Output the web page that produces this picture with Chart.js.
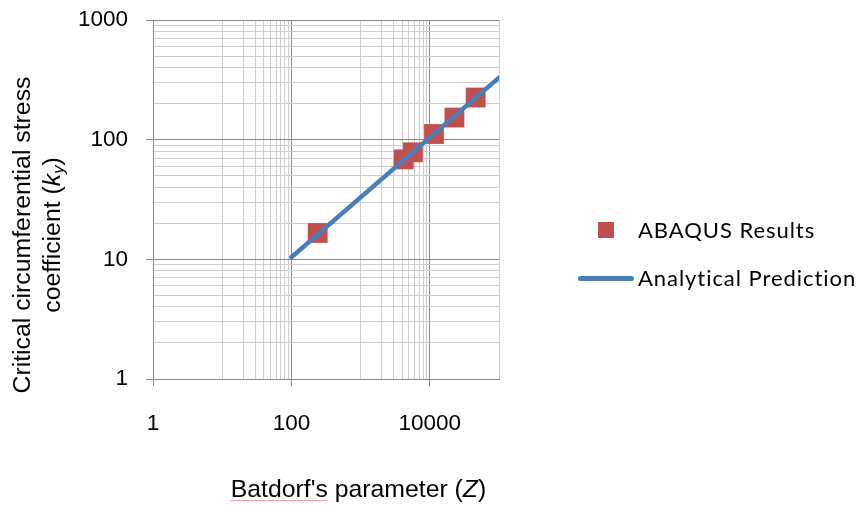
<!DOCTYPE html>
<html>
<head>
<meta charset="utf-8">
<script src="https://cdn.jsdelivr.net/npm/chart.js@4/dist/chart.umd.min.js"></script>
<style>
  html, body { margin: 0; padding: 0; background: #fff; }
  #wrap { position: relative; width: 865px; height: 506px; overflow: hidden; }
  #chart { position: absolute; left: 0; top: 0; }
  .axis-title { position: absolute; font-family: "Liberation Sans", Arial, sans-serif; font-size: 24.8px; color: #000; white-space: nowrap; }
  #xTitle { left: 0; width: 717px; top: 475px; text-align: center; line-height: 28px; }
  #xTitle .sp { text-decoration: underline; text-decoration-color: #f3a3a3; text-decoration-thickness: 1px; text-underline-offset: 3px; }
  #yTitle { left: 37px; top: 235px; width: 420px; line-height: 30px; text-align: center; transform: translate(-50%, -50%) rotate(-90deg); }
  #yTitle sub { font-size: 16.5px; vertical-align: -4px; line-height: 0; }
  #legend { position: absolute; left: 0; top: 0; font-family: Lato, "Open Sans", sans-serif; font-size: 22px; letter-spacing: 0.95px; color: #000; }
  .lg-item { position: absolute; white-space: nowrap; line-height: 26px; }
  .lg-swatch { position: absolute; }
</style>
</head>
<body>
<div id="wrap">
  <canvas id="chart" width="865" height="506"></canvas>
  <div class="axis-title" id="xTitle"><span class="sp">Batdorf's</span> parameter (<i>Z</i>)</div>
  <div class="axis-title" id="yTitle">Critical circumferential stress<br>coefficient (<i>k</i><sub><i>y</i></sub>)</div>
  <div id="legend"></div>
</div>
<script>
// Batdorf's parameter Z and buckling coefficient k_y from the FE runs
const abaqusZ = [240, 4200, 5700, 11500, 22700, 46000];
const abaqusK = [16.6, 68.4, 78.4, 111.5, 153, 225];

// Closed-form prediction, end points of the straight log-log line
const predictionZ = [100, 100000];
const predictionK = [10.4, 330];

const seriesNames = ['ABAQUS Results', 'Analytical Prediction'];

// Axis grid/tick positions
const xTickValues = [1, 10, 20, 30, 40, 50, 60, 70, 80, 90, 100,
  1000, 2000, 3000, 4000, 5000, 6000, 7000, 8000, 9000, 10000, 100000];
const xMajorTicks = [1, 100, 10000];
const xTickLabels = ['1', '100', '10000'];

const yTickValues = [1, 2, 3, 4, 5, 6, 7, 8, 9, 10, 20, 30, 40, 50, 60, 70, 80, 90,
  100, 200, 300, 400, 500, 600, 700, 800, 900, 1000];
const yMajorTicks = [1, 10, 100, 1000];
const yTickLabels = ['1', '10', '100', '1000'];

const MAJOR_GRID = '#878787';
const MINOR_GRID = '#cdcdcd';
const RED = '#c0504d';
const BLUE = '#4a7ebb';

const toPoints = (xs, ys) => xs.map((x, i) => ({ x, y: ys[i] }));

function tickList(values, majors) {
  return values.map(v => ({ value: v, major: majors.includes(v) }));
}
function labelFor(values, labels) {
  return v => {
    const i = values.indexOf(v);
    return i >= 0 ? labels[i] : '';
  };
}
const xLabel = labelFor(xMajorTicks, xTickLabels);
const yLabel = labelFor(yMajorTicks, yTickLabels);

const tickFont = { family: '"Liberation Sans", Arial, sans-serif', size: 22.5 };

// fixed plot frame: scale boxes get exact sizes and no label overflow padding
function fixBox(size) {
  return s => {
    if (s.isHorizontal()) s.height = size; else s.width = size;
    s.paddingTop = s.paddingBottom = s.paddingLeft = s.paddingRight = 0;
  };
}

const chart = new Chart(document.getElementById('chart'), {
  data: {
    datasets: [
      {
        type: 'scatter',
        label: seriesNames[0],
        data: toPoints(abaqusZ, abaqusK),
        pointStyle: 'rect',
        pointRadius: 14,
        pointHoverRadius: 14,
        backgroundColor: RED,
        borderColor: RED,
        borderWidth: 0,
        order: 2
      },
      {
        type: 'line',
        label: seriesNames[1],
        data: toPoints(predictionZ, predictionK),
        borderColor: BLUE,
        backgroundColor: BLUE,
        borderWidth: 4.5,
        borderCapStyle: 'round',
        pointRadius: 0,
        tension: 0,
        order: 1
      }
    ]
  },
  options: {
    responsive: false,
    animation: false,
    events: [],
    layout: { padding: { top: 20, right: 366, left: 0, bottom: 0 } },
    plugins: { legend: { display: false }, tooltip: { enabled: false } },
    scales: {
      x: {
        type: 'logarithmic',
        min: 1,
        max: 100000,
        afterBuildTicks: s => { s.ticks = tickList(xTickValues, xMajorTicks); },
        afterFit: fixBox(127),
        ticks: {
          autoSkip: false,
          maxRotation: 0,
          padding: 24,
          color: '#000',
          font: tickFont,
          callback: v => xLabel(v)
        },
        grid: {
          drawTicks: true,
          tickLength: 7,
          lineWidth: 1,
          color: c => (c.tick && xMajorTicks.includes(c.tick.value)) ? MAJOR_GRID : MINOR_GRID,
          tickColor: c => (c.tick && xMajorTicks.includes(c.tick.value)) ? MAJOR_GRID : 'rgba(0,0,0,0)'
        },
        border: { display: true, color: MAJOR_GRID, width: 1 }
      },
      y: {
        type: 'logarithmic',
        min: 1,
        max: 1000,
        afterBuildTicks: s => { s.ticks = tickList(yTickValues, yMajorTicks); },
        afterFit: fixBox(153),
        ticks: {
          autoSkip: false,
          padding: 18,
          color: '#000',
          font: tickFont,
          callback: v => yLabel(v)
        },
        grid: {
          drawTicks: true,
          tickLength: 7,
          lineWidth: 1,
          color: c => (c.tick && yMajorTicks.includes(c.tick.value)) ? MAJOR_GRID : MINOR_GRID,
          tickColor: c => (c.tick && yMajorTicks.includes(c.tick.value)) ? MAJOR_GRID : 'rgba(0,0,0,0)'
        },
        border: { display: true, color: MAJOR_GRID, width: 1 }
      }
    }
  }
});

// Legend built from the chart's own datasets
(function buildLegend() {
  const legend = document.getElementById('legend');
  const ds = chart.data.datasets;
  const rows = [
    { ds: ds[0], cy: 230 },
    { ds: ds[1], cy: 278 }
  ];
  rows.forEach(r => {
    const sw = document.createElement('div');
    sw.className = 'lg-swatch';
    if (r.ds.type === 'scatter') {
      Object.assign(sw.style, { left: '598px', top: (r.cy - 8) + 'px', width: '16px', height: '16px', background: r.ds.backgroundColor });
    } else {
      Object.assign(sw.style, { left: '578px', top: (r.cy - 2.5) + 'px', width: '56px', height: '5px', background: r.ds.borderColor, borderRadius: '3px' });
    }
    legend.appendChild(sw);
    const t = document.createElement('div');
    t.className = 'lg-item';
    t.textContent = r.ds.label;
    Object.assign(t.style, { left: '638px', top: (r.cy - 13) + 'px' });
    legend.appendChild(t);
  });
})();
</script>
</body>
</html>
